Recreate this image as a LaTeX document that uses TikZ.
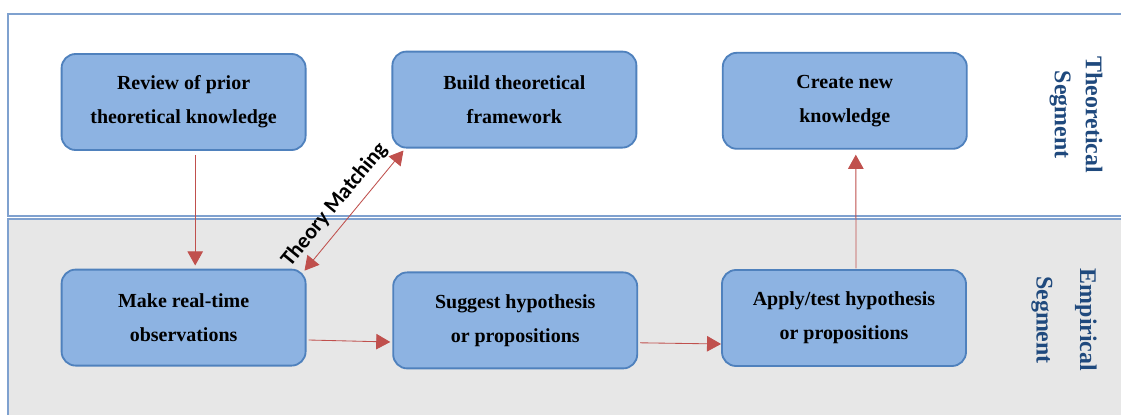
\documentclass[tikz,border=0pt]{standalone}
\usepackage{fontspec}
\setmainfont{Liberation Serif}
\newfontfamily\labelfont{Carlito}
\usepackage{xcolor}
\usetikzlibrary{arrows.meta,positioning,calc}
\definecolor{boxfill}{RGB}{141,179,226}
\definecolor{boxline}{RGB}{79,129,189}
\definecolor{panelline}{RGB}{127,161,207}
\definecolor{empiricalgray}{RGB}{231,231,231}
\definecolor{flowcolor}{RGB}{192,80,77}
\definecolor{segmentcolor}{RGB}{31,73,125}

\begin{document}
\begin{tikzpicture}[
    stage/.style={draw=boxline,line width=1.3pt,fill=boxfill,rounded corners=0.35cm,
        minimum width=6.1cm,minimum height=2.4cm,align=center,
        font=\fontsize{14.2}{24}\selectfont\bfseries},
    flow/.style={flowcolor,line width=0.6pt,-{Triangle[length=10pt,width=11pt]}},
    segment/.style={segmentcolor,rotate=-90,align=center,font=\fontsize{17}{22}\selectfont\bfseries}
]
    \useasboundingbox (0,0) rectangle (28.025,10.35);

    % Theoretical panel
    \draw[panelline,line width=1.2pt,fill=white] (0.2,4.95) rectangle (28.4,10.0);
    % Empirical panel
    \draw[panelline,line width=1.2pt,fill=empiricalgray] (0.2,-0.4) rectangle (28.4,4.875);

    % Stages
    \node[stage] (review) at (4.59,7.8) {Review of prior\\theoretical knowledge};
    \node[stage] (build) at (12.86,7.86) {Build theoretical\\framework};
    \node[stage] (create) at (21.12,7.83) {Create new\\knowledge};
    \node[stage] (observe) at (4.59,2.41) {Make real-time\\observations};
    \node[stage] (suggest) at (12.88,2.34) {Suggest hypothesis\\or propositions};
    \node[stage] (apply) at (21.1,2.4) {Apply/test hypothesis\\or propositions};

    % Segment labels
    \node[segment] (theolabel) at (26.9,7.48) {Theoretical\\Segment};
    \node[segment,font=\fontsize{17}{31}\selectfont\bfseries] (emplabel) at (26.6,2.35) {Empirical\\Segment};

    % Flows
    \draw[flow] ([xshift=0.29cm,yshift=-0.1cm]review.south) -- ([xshift=0.29cm,yshift=0.08cm]observe.north);
    \draw[flow,{Triangle[length=10pt,width=11pt]}-{Triangle[length=10pt,width=11pt]}]
        ([xshift=-0.05cm,yshift=-0.05cm]observe.north east) -- ([xshift=0.3cm,yshift=-0.05cm]build.south west)
        node[pos=0.45,sloped,above=3pt,black,font=\labelfont\fontsize{15.5}{17}\selectfont\bfseries] (match) {Theory Matching};
    \draw[flow] ([xshift=0.05cm,yshift=-0.56cm]observe.east) -- ([xshift=-0.05cm,yshift=-0.54cm]suggest.west);
    \draw[flow] ([xshift=0.05cm,yshift=-0.56cm]suggest.east) -- ([yshift=-0.65cm]apply.west);
    \draw[flow] ([xshift=0.3cm,yshift=0.02cm]apply.north) -- ([xshift=0.275cm,yshift=-0.125cm]create.south);
\end{tikzpicture}
\end{document}
